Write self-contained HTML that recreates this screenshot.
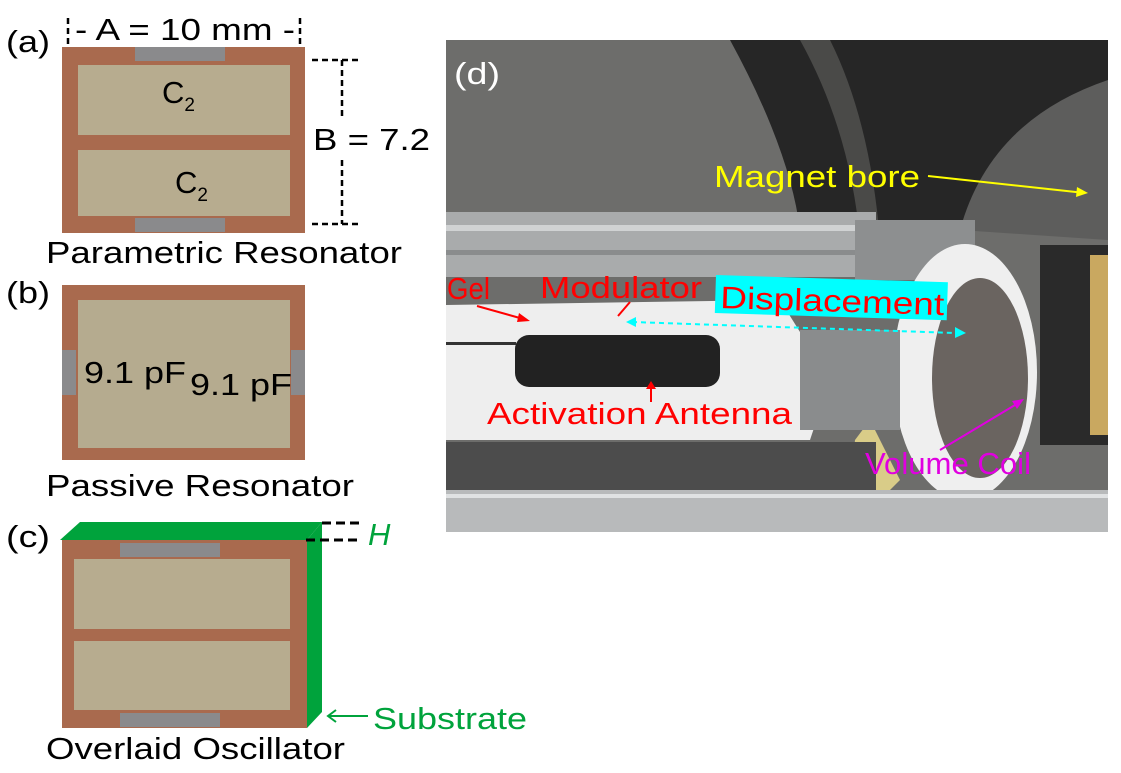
<!DOCTYPE html>
<html><head><meta charset="utf-8"><style>
body{margin:0;background:#fff;}
svg{display:block;}
text{font-family:"Liberation Sans",Arial,sans-serif;}
</style></head><body>
<svg width="1121" height="773" viewBox="0 0 1121 773" xmlns="http://www.w3.org/2000/svg">
<!-- (a) -->
<text x="6" y="52" font-size="31" textLength="44" lengthAdjust="spacingAndGlyphs">(a)</text>
<path d="M68 18 V46 M300 18 V46" stroke="#000" stroke-width="2.5" stroke-dasharray="6,4"/>
<text x="75" y="40" font-size="31" textLength="220" lengthAdjust="spacingAndGlyphs">- A = 10 mm -</text>
<rect x="62" y="47" width="243" height="186" fill="#a96a4e"/>
<rect x="78" y="65" width="212" height="70" fill="#b7ac8f"/>
<rect x="78" y="150" width="212" height="66" fill="#b7ac8f"/>
<rect x="135" y="47" width="90" height="14" fill="#8a8a8c"/>
<rect x="135" y="218" width="90" height="14" fill="#8a8a8c"/>
<text x="162" y="103" font-size="31">C<tspan font-size="19" dy="8">2</tspan></text>
<text x="175" y="193" font-size="31">C<tspan font-size="19" dy="8">2</tspan></text>
<path d="M312 60 H360 M312 224 H360 M342 60 V120 M342 160 V224" stroke="#000" stroke-width="2.5" stroke-dasharray="6,4"/>
<text x="313" y="150" font-size="31" textLength="117" lengthAdjust="spacingAndGlyphs">B = 7.2</text>
<text x="46" y="263" font-size="31" textLength="356" lengthAdjust="spacingAndGlyphs">Parametric Resonator</text>
<!-- (b) -->
<text x="6" y="303" font-size="31" textLength="44" lengthAdjust="spacingAndGlyphs">(b)</text>
<rect x="62" y="285" width="243" height="175" fill="#a96a4e"/>
<rect x="78" y="300" width="212" height="148" fill="#b5ab8f"/>
<rect x="62" y="350" width="14" height="45" fill="#8a8a8c"/>
<rect x="291" y="350" width="14" height="45" fill="#8a8a8c"/>
<text x="84" y="383" font-size="31" textLength="102" lengthAdjust="spacingAndGlyphs">9.1 pF</text>
<text x="190" y="395" font-size="31" textLength="102" lengthAdjust="spacingAndGlyphs">9.1 pF</text>
<text x="46" y="496" font-size="31" textLength="308" lengthAdjust="spacingAndGlyphs">Passive Resonator</text>
<!-- (c) -->
<text x="6" y="547" font-size="31" textLength="44" lengthAdjust="spacingAndGlyphs">(c)</text>
<rect x="62" y="540" width="245" height="188" fill="#a96a4e"/>
<rect x="74" y="559" width="216" height="70" fill="#b7ac8f"/>
<rect x="74" y="641" width="216" height="69" fill="#b7ac8f"/>
<rect x="120" y="543" width="100" height="14" fill="#8a8a8c"/>
<rect x="120" y="713" width="100" height="14" fill="#8a8a8c"/>
<polygon points="60,540 80,522 322,522 307,540" fill="#00a33c"/>
<polygon points="307,540 322,522 322,712 307,728" fill="#00a33c"/>
<path d="M322 523 H362 M306 540 H362" stroke="#000" stroke-width="3" stroke-dasharray="9,5"/>
<text x="368" y="545" font-size="31" font-style="italic" fill="#00a33c">H</text>
<path d="M328 716 H368 M336 710 L328 716 L336 722" stroke="#00a33c" stroke-width="2" fill="none"/>
<text x="373" y="729" font-size="31" fill="#00a33c" textLength="154" lengthAdjust="spacingAndGlyphs">Substrate</text>
<text x="46" y="759" font-size="31" textLength="299" lengthAdjust="spacingAndGlyphs">Overlaid Oscillator</text>
<!-- (d) photo -->
<clipPath id="cp"><rect x="446" y="40" width="662" height="492"/></clipPath>
<g clip-path="url(#cp)">
<rect x="446" y="40" width="662" height="492" fill="#6d6d6b"/>
<path d="M730 40 Q790 150 800 230 L1108 230 L1108 40 Z" fill="#262626"/>
<path d="M800 40 Q850 130 860 240 L880 240 Q870 120 830 40Z" fill="#4a4a48"/>
<path d="M960 230 Q990 120 1108 80 L1108 240 Z" fill="#5d5d5c"/>
<rect x="446" y="212" width="430" height="65" fill="#a9abac"/>
<rect x="446" y="225" width="430" height="6" fill="#d0d2d3"/>
<rect x="446" y="250" width="430" height="5" fill="#8a8c8d"/>
<rect x="855" y="220" width="120" height="60" fill="#8d8f90"/>
<rect x="1040" y="245" width="68" height="200" fill="#2a2a2a"/>
<rect x="1090" y="255" width="18" height="180" fill="#c9a860"/>
<ellipse cx="965" cy="372" rx="72" ry="128" fill="#efefef"/>
<ellipse cx="980" cy="378" rx="48" ry="100" fill="#6a6460"/>
<path d="M855 440 Q850 480 880 500 L900 480 Q880 440 870 420Z" fill="#d9cc88"/>
<path d="M446 305 L780 300 L830 380 L810 440 L446 440Z" fill="#eeeeee"/>
<path d="M800 330 L900 330 L900 430 L800 430Z" fill="#8a8c8d"/>
<rect x="515" y="335" width="205" height="52" rx="14" fill="#222"/>
<rect x="446" y="342" width="70" height="3" fill="#333"/>
<rect x="446" y="442" width="430" height="50" fill="#4c4c4c"/>
<rect x="446" y="490" width="662" height="42" fill="#b8babb"/>
<rect x="446" y="494" width="662" height="4" fill="#e0e2e3"/>
</g>
<text x="454" y="84" font-size="31" fill="#fff" textLength="46" lengthAdjust="spacingAndGlyphs">(d)</text>
<text x="714" y="187" font-size="31" fill="#ffff00" textLength="206" lengthAdjust="spacingAndGlyphs">Magnet bore</text>
<path d="M928 176 L1085 193" stroke="#ffff00" stroke-width="2"/>
<polygon points="1088,193 1077,187 1076,197" fill="#ffff00"/>
<text x="447" y="299" font-size="31" fill="#ff0000" textLength="43" lengthAdjust="spacingAndGlyphs">Gel</text>
<path d="M477 306 L527 320" stroke="#ff0000" stroke-width="2"/>
<polygon points="530,321 519,313 517,322" fill="#ff0000"/>
<text x="540" y="298" font-size="31" fill="#ff0000" textLength="162" lengthAdjust="spacingAndGlyphs">Modulator</text>
<path d="M630 302 L618 316" stroke="#ff0000" stroke-width="2"/>
<rect x="716" y="275" width="232" height="38" fill="#00ffff" transform="rotate(1.8 716 275)"/>
<text x="720" y="308" font-size="31" fill="#ff0000" textLength="224" lengthAdjust="spacingAndGlyphs" transform="rotate(1.8 720 308)">Displacement</text>
<path d="M632 322 L955 333" stroke="#00ffff" stroke-width="2" stroke-dasharray="5,4"/>
<polygon points="626,322 636,317 636,327" fill="#00ffff"/>
<polygon points="966,333 955,327 955,338" fill="#00ffff"/>
<text x="487" y="424" font-size="31" fill="#ff0000" textLength="305" lengthAdjust="spacingAndGlyphs">Activation Antenna</text>
<path d="M651 402 V385" stroke="#ff0000" stroke-width="2"/>
<polygon points="651,381 646,389 656,389" fill="#ff0000"/>
<text x="865" y="474" font-size="31" fill="#e000e0" textLength="166" lengthAdjust="spacingAndGlyphs">Volume Coil</text>
<path d="M940 450 L1020 402" stroke="#e000e0" stroke-width="2"/>
<polygon points="1024,399 1012,401 1017,409" fill="#e000e0"/>
</svg>
</body></html>
